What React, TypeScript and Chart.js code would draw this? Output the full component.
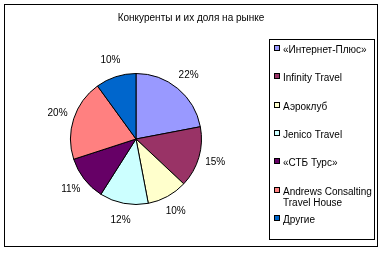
import React, { useEffect, useRef } from "react";
import { Chart, registerables } from "chart.js";

Chart.register(...registerables);

const title = "Конкуренты и их доля на рынке";
const categories = [
  "«Интернет-Плюс»",
  "Infinity Travel",
  "Аэроклуб",
  "Jenico Travel",
  "«СТБ Турс»",
  "Andrews Consalting Travel House",
  "Другие",
];
const shares = [22, 15, 10, 12, 11, 20, 10];
const percentLabels = ["22%", "15%", "10%", "12%", "11%", "20%", "10%"];
const colors = ["#9999FF", "#993366", "#FFFFCC", "#CCFFFF", "#660066", "#FF8080", "#0066CC"];
const legendLines = [
  ["«Интернет-Плюс»"],
  ["Infinity Travel"],
  ["Аэроклуб"],
  ["Jenico Travel"],
  ["«СТБ Турс»"],
  ["Andrews Consalting", "Travel House"],
  ["Другие"],
];

const FONT = '10px "Liberation Sans", Arial, sans-serif';

const framePlugin = {
  id: "frame",
  beforeDraw(chart: any) {
    const ctx = chart.ctx;
    ctx.save();
    ctx.fillStyle = "#fff";
    ctx.fillRect(0, 0, chart.width, chart.height);
    ctx.strokeStyle = "#000";
    ctx.lineWidth = 1;
    ctx.strokeRect(4.5, 4.5, 373, 242);
    ctx.restore();
  },
  afterDraw(chart: any) {
    const ctx = chart.ctx;
    ctx.save();
    ctx.font = FONT;
    ctx.fillStyle = "#000";
    ctx.textAlign = "center";
    ctx.textBaseline = "middle";
    ctx.fillText(title, 191, 18);

    // legend box
    ctx.strokeStyle = "#000";
    ctx.lineWidth = 1;
    ctx.strokeRect(269.5, 39.5, 105, 200);
    const ys = [50, 78, 107, 135, 163, 192, 220];
    ctx.textAlign = "left";
    legendLines.forEach((lines, i) => {
      const y = ys[i];
      ctx.fillStyle = colors[i];
      ctx.fillRect(275, y - 4, 5, 5);
      ctx.strokeStyle = "#000";
      ctx.strokeRect(274.5, y - 4.5, 5, 5);
      ctx.fillStyle = "#000";
      lines.forEach((t, j) => ctx.fillText(t, 283, y + j * 11));
    });
    ctx.restore();
  },
};

const labelPlugin = {
  id: "pctLabels",
  afterDatasetsDraw(chart: any) {
    const ctx = chart.ctx;
    const meta = chart.getDatasetMeta(0);
    ctx.save();
    ctx.font = FONT;
    ctx.fillStyle = "#000";
    ctx.textAlign = "center";
    ctx.textBaseline = "middle";
    meta.data.forEach((arc: any, i: number) => {
      const p = arc.getProps(["x", "y", "startAngle", "endAngle", "outerRadius"], true);
      const mid = (p.startAngle + p.endAngle) / 2;
      const r = p.outerRadius + 17;
      ctx.fillText(percentLabels[i], p.x + Math.cos(mid) * r, p.y + Math.sin(mid) * r);
    });
    ctx.restore();
  },
};

export default function App() {
  const ref = useRef<HTMLCanvasElement>(null);
  useEffect(() => {
    const chart = new Chart(ref.current!, {
      type: "pie",
      data: {
        labels: categories,
        datasets: [
          {
            data: shares,
            backgroundColor: colors,
            borderColor: "#000",
            borderWidth: 1,
          },
        ],
      },
      options: {
        responsive: false,
        animation: false,
        layout: { padding: { left: 70, right: 181, top: 73, bottom: 48 } },
        plugins: {
          legend: { display: false },
          tooltip: { enabled: false },
          title: { display: false },
        },
      },
      plugins: [framePlugin, labelPlugin],
    });
    return () => chart.destroy();
  }, []);
  return (
    <div style={{ position: "absolute", left: 0, top: 0, width: 383, height: 253 }}>
      <canvas ref={ref} width={383} height={253} style={{ width: 383, height: 253, display: "block" }} />
    </div>
  );
}
